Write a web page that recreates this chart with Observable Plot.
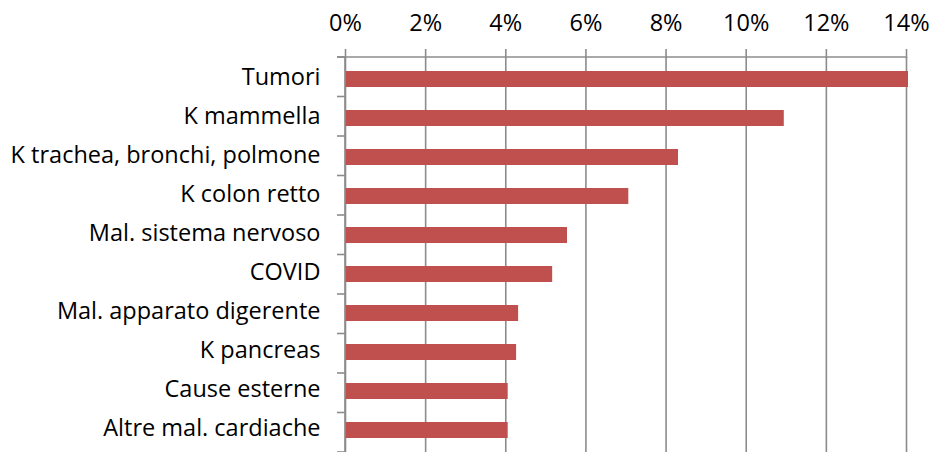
<!DOCTYPE html>
<html>
<head>
<meta charset="utf-8">
<script src="https://cdn.jsdelivr.net/npm/d3@7"></script>
<script src="https://cdn.jsdelivr.net/npm/@observablehq/plot@0.6"></script>
<style>
  html, body { margin: 0; padding: 0; background: #fff; }
  #chart svg { display: block; }
</style>
</head>
<body>
<div id="chart"></div>
<script>
const categories = [
  "Tumori",
  "K mammella",
  "K trachea, bronchi, polmone",
  "K colon retto",
  "Mal. sistema nervoso",
  "COVID",
  "Mal. apparato digerente",
  "K pancreas",
  "Cause esterne",
  "Altre mal. cardiache"
];
const values = [0.1405, 0.1095, 0.0831, 0.0707, 0.0554, 0.0517, 0.0432, 0.0427, 0.0406, 0.0406];
const xTicks = [0, 0.02, 0.04, 0.06, 0.08, 0.10, 0.12, 0.14];

const data = categories.map((c, i) => ({cause: c, value: values[i]}));

const axisColor = "#8c8c8c";
const W = 930, H = 452;
const mT = 57, mB = 0, mL = 345, mR = 24;
const font = "'Open Sans', Lato, sans-serif";

function frameMarks(index, scales, vals, dims) {
  const ns = "http://www.w3.org/2000/svg";
  const g = document.createElementNS(ns, "g");
  const n = categories.length;
  const top = dims.marginTop, bottom = dims.height - dims.marginBottom;
  const left = dims.marginLeft, right = dims.width - dims.marginRight;
  const step = (bottom - top) / n;
  const line = (x1, y1, x2, y2) => {
    const l = document.createElementNS(ns, "line");
    l.setAttribute("x1", x1); l.setAttribute("y1", y1);
    l.setAttribute("x2", x2); l.setAttribute("y2", y2);
    l.setAttribute("stroke", axisColor);
    l.setAttribute("stroke-width", 1.6);
    g.appendChild(l);
  };
  line(left - 8, top, right + 1, top);
  line(left, top, left, bottom);
  for (let i = 0; i <= n; i++) {
    const y = top + i * step;
    line(left - 8, y, left, y);
  }
  return g;
}

const chart = Plot.plot({
  width: W,
  height: H,
  marginTop: mT,
  marginBottom: mB,
  marginLeft: mL,
  marginRight: mR,
  style: {fontFamily: font, fontSize: "23.5px", color: "#000", background: "#fff"},
  x: {domain: [0, 0.14], ticks: xTicks, tickFormat: d3.format(".0%"), label: null},
  y: {domain: categories, paddingInner: 0.595, paddingOuter: 0.2975, label: null},
  marks: [
    Plot.gridX(xTicks, {stroke: axisColor, strokeOpacity: 1, strokeWidth: 1.6}),
    Plot.axisX(xTicks, {anchor: "top", tickSize: 9, tickPadding: 18, stroke: axisColor, strokeWidth: 1.6, strokeOpacity: 1, fill: "#000", fontSize: 23.5, tickFormat: d3.format(".0%"), label: null}),
    Plot.axisY({tickSize: 0, tickPadding: 25, dy: -2, fill: "#000", fontSize: 23.5, label: null}),
    Plot.barX(data, {x: "value", y: "cause", fill: "#c0504d"}),
    frameMarks
  ]
});
document.getElementById("chart").appendChild(chart);
</script>
</body>
</html>
